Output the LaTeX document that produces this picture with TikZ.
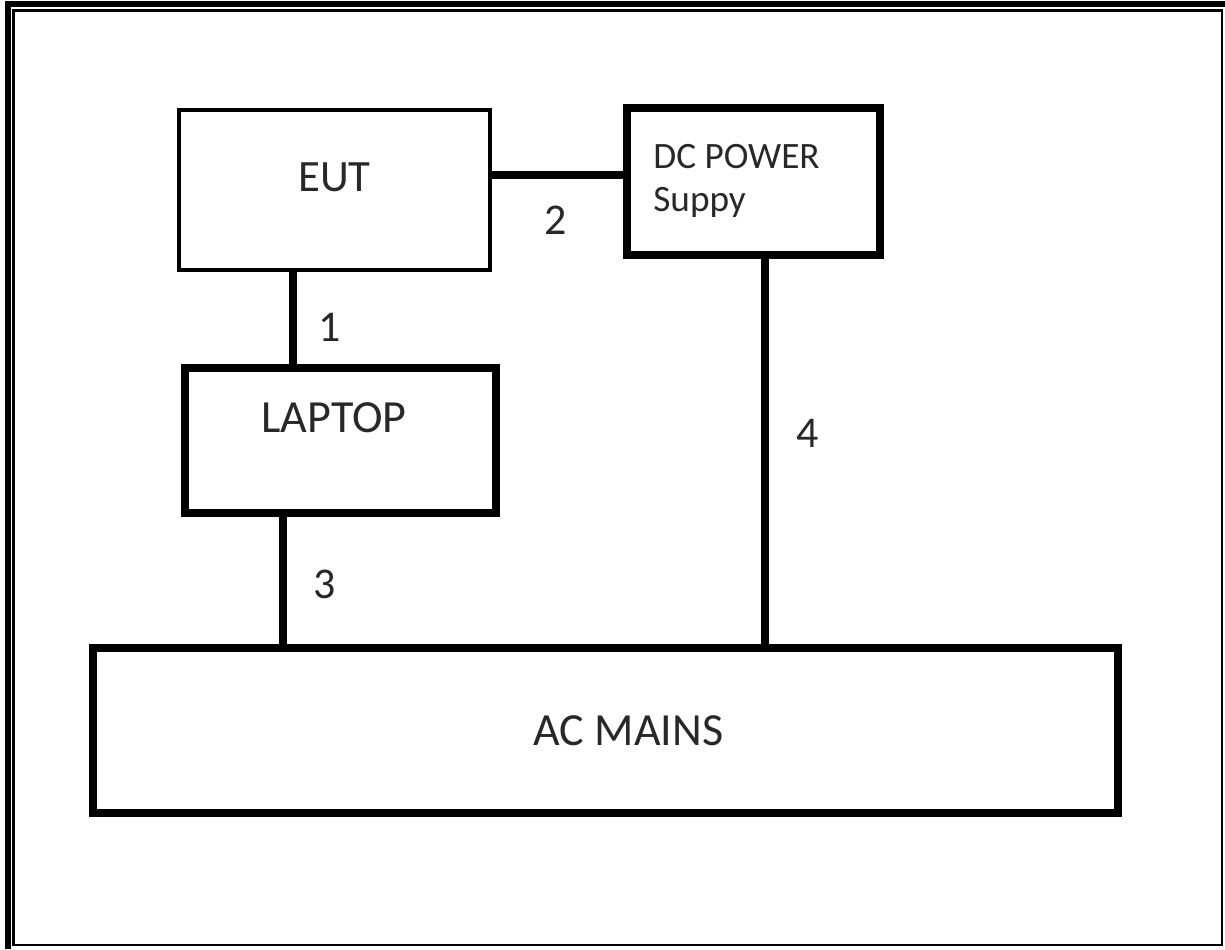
\documentclass[tikz,border=0pt]{standalone}
\usepackage{fontspec}
\setmainfont{Carlito}
\usetikzlibrary{positioning,calc}
\definecolor{inkGrey}{RGB}{40,40,40}

\begin{document}
\begin{tikzpicture}[
      box/.style={draw,line width=4.2pt,outer sep=0pt,inner sep=0pt,
                  minimum width=6.22cm,minimum height=2.9cm},
      lightbox/.style={box,line width=2.5pt},
      txt/.style={font=\fontsize{26.2}{30}\selectfont,text=inkGrey,inner sep=0pt},
      wire/.style={line width=4.2pt},
      num/.style={font=\fontsize{25}{30}\selectfont,text=inkGrey,inner sep=0pt}]
    \useasboundingbox (0,0) rectangle (24.5,-18.98);
    % page frame
    \draw[line width=3.8pt] (0.16,-18.98) -- (0.16,-0.08) -- (24.5,-0.08);
    \draw[line width=1.2pt] (0.27,-0.21) rectangle (24.44,-18.9);
    % blocks
    \node[lightbox,minimum height=3.2cm,
          label={[txt,font=\fontsize{25.5}{30}\selectfont,yshift=0.26cm]center:EUT}] (eut) at (6.69,-3.8) {};
    \node[box,minimum width=5.06cm,minimum height=2.94cm,
          label={[txt,font=\fontsize{21.2}{24.6}\selectfont,align=left,
                  anchor=north west,xshift=0.52cm,yshift=-0.72cm]north west:DC POWER\\Suppy}] (dc) at (15.07,-3.63) {};
    \node[box,label={[txt,xshift=-0.13cm,yshift=0.46cm]center:LAPTOP}] (laptop) at (6.81,-8.81) {};
    \node[box,minimum width=20.5cm,minimum height=3.3cm,
          label={[txt,xshift=0.46cm]center:AC MAINS}] (mains) at (12.11,-14.61) {};
    % cables
    \draw[wire] ([xshift=-0.83cm]eut.south) -- node[num,pos=0.59,right=0.44cm]{1} ([xshift=-0.83cm]eut.south |- laptop.north);
    \draw[wire] ([yshift=0.3cm]eut.east) -- node[num,pos=0.48,below=0.54cm]{2} ([yshift=0.3cm]eut.east -| dc.west);
    \draw[wire] ([xshift=-1.15cm]laptop.south) -- node[num,pos=0.53,right=0.54cm]{3} ([xshift=-1.15cm]laptop.south |- mains.north);
    \draw[wire] ([xshift=0.23cm]dc.south) -- node[num,pos=0.455,right=0.56cm]{4} ([xshift=0.23cm]dc.south |- mains.north);
  \end{tikzpicture}
\end{document}
